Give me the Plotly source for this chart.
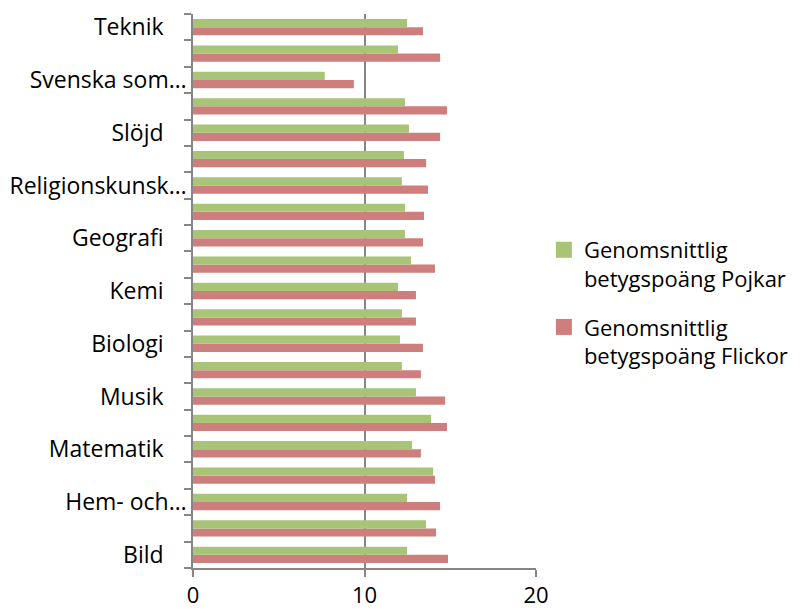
import plotly.graph_objects as go

categories = [
    "Bild", "Engelska", "Hem- och konsumentkunskap", "Idrott och hälsa",
    "Matematik", "Modersmål", "Musik", "Naturorienterande ämnen", "Biologi",
    "Fysik", "Kemi", "Samhällsorienterande ämnen", "Geografi", "Historia",
    "Religionskunskap", "Samhällskunskap", "Slöjd", "Svenska",
    "Svenska som andraspråk", "Teckenspråk för hörande", "Teknik",
]
tick_labels = [
    "Bild", "", "Hem- och…", "", "Matematik", "", "Musik", "", "Biologi", "",
    "Kemi", "", "Geografi", "", "Religionskunsk…", "", "Slöjd", "",
    "Svenska som…", "", "Teknik",
]
pojkar = [12.48, 13.59, 12.48, 14.00, 12.77, 13.88, 13.00, 12.18, 12.07, 12.18,
          11.95, 12.71, 12.36, 12.36, 12.18, 12.30, 12.59, 12.36, 7.68, 11.95, 12.48]
flickor = [14.87, 14.17, 14.41, 14.11, 13.29, 14.81, 14.70, 13.29, 13.41, 13.00,
           13.00, 14.11, 13.41, 13.47, 13.70, 13.59, 14.41, 14.81, 9.38, 14.41, 13.41]
series_names = ["Genomsnittlig<br>betygspoäng Pojkar", "Genomsnittlig<br>betygspoäng Flickor"]
x_ticks = [0, 10, 20]

FONT = "Open Sans"
FS = 23
GREY = "#868686"
GREEN = "#A7C477"
RED = "#CE7F7D"

fig = go.Figure()
# Flickor first so that Pojkar bar sits above within each category
fig.add_trace(go.Bar(
    y=categories, x=flickor, orientation="h", name=series_names[1],
    marker=dict(color=RED, line=dict(width=0)), showlegend=False,
))
fig.add_trace(go.Bar(
    y=categories, x=pojkar, orientation="h", name=series_names[0],
    marker=dict(color=GREEN, line=dict(width=0)), showlegend=False,
))
# legend entries (square swatches)
for nm, col, grp in [(series_names[0], GREEN, "p"), (series_names[1], RED, "f")]:
    fig.add_trace(go.Scatter(
        x=[None], y=[None], mode="markers", name=nm, legendgroup=grp,
        marker=dict(symbol="square", size=16, color=col, line=dict(width=0)),
        showlegend=True, hoverinfo="skip",
    ))

ticktext = [t + ("" if (t == "" or t.endswith("…")) else "\u2002\u2002") for t in tick_labels]

# page body adds an 8px offset; figure sized to fit the 802x613 window
fig.update_layout(
    width=794, height=605,
    margin=dict(l=185, r=266, t=6, b=45, autoexpand=False),
    paper_bgcolor="white", plot_bgcolor="white",
    barmode="group", bargap=0.38, bargroupgap=0,
    font=dict(family=FONT, size=FS, color="#000000"),
    legend=dict(
        x=1.023, xanchor="left", y=0.612, yanchor="top",
        traceorder="grouped", valign="top", tracegroupgap=17,
        font=dict(family=FONT, size=22, color="#000000"),
        bgcolor="rgba(0,0,0,0)", itemsizing="trace",
    ),
    showlegend=True,
)
fig.update_xaxes(
    range=[0, 20], tickvals=x_ticks, ticktext=[str(v) for v in x_ticks],
    showgrid=True, gridcolor=GREY, gridwidth=1.6,
    showline=True, linecolor=GREY, linewidth=1.6,
    ticks="outside", ticklen=7, tickcolor=GREY, tickwidth=1.6,
    ticklabelstandoff=0,
    zeroline=False, tickfont=dict(family=FONT, size=22), automargin=False,
)
fig.update_yaxes(
    type="category", categoryorder="array", categoryarray=categories,
    tickmode="array", tickvals=categories, ticktext=ticktext,
    tickson="boundaries",
    showgrid=False, showline=True, linecolor=GREY, linewidth=1.6,
    ticks="outside", ticklen=7, tickcolor=GREY, tickwidth=1.6,
    tickfont=dict(family=FONT, size=FS), automargin=False,
    range=[-0.5, len(categories) - 0.5],
)

fig.write_html("out.html")
